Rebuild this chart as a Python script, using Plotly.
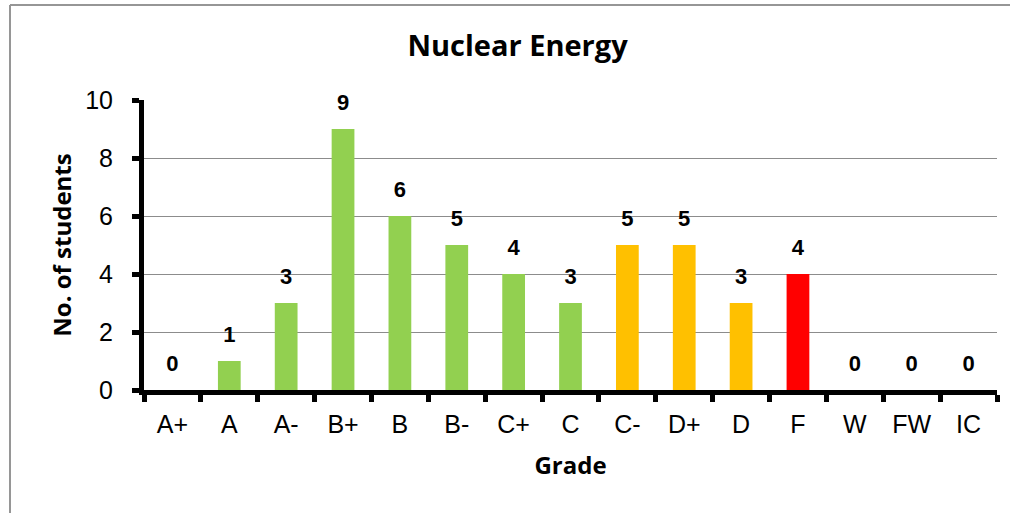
import plotly.graph_objects as go

grades = ["A+", "A", "A-", "B+", "B", "B-", "C+", "C", "C-", "D+", "D", "F", "W", "FW", "IC"]
students = [0, 1, 3, 9, 6, 5, 4, 3, 5, 5, 3, 4, 0, 0, 0]
colors = ["#92D050"] * 8 + ["#FFC000"] * 3 + ["#FF0000"] + ["#92D050"] * 3

fig = go.Figure()
fig.add_trace(go.Bar(
    x=grades, y=students, marker_color=colors, marker_line_width=0, hoverinfo="x+y",
))
fig.add_trace(go.Scatter(
    x=grades, y=students, mode="markers+text", text=[str(v) for v in students],
    textposition="top center", cliponaxis=False, hoverinfo="skip",
    marker=dict(size=20, color="rgba(0,0,0,0)"),
    textfont=dict(family="Arial", size=22, color="black", weight="bold"),
))

W, H = 1010, 513
l, r, t, b = 144, 13, 100, 123
pw, ph = W - l - r, H - t - b
fx = lambda px: (px - l) / pw
fy = lambda py: (H - b - py) / ph
fig.update_layout(
    width=W, height=H, autosize=False,
    margin=dict(l=l, r=r, t=t, b=b, pad=0),
    paper_bgcolor="white", plot_bgcolor="white",
    bargap=0.6, showlegend=False,
    title=dict(text="<b>Nuclear Energy</b>", x=0.5124, xanchor="center", y=0.910, yanchor="middle",
               font=dict(family="Open Sans", size=29, color="black")),
    xaxis=dict(
        range=[-0.5, len(grades) - 0.5],
        showline=True, linewidth=5, linecolor="black", ticks="outside", tickwidth=5, ticklen=7,
        tickcolor="black", tickson="boundaries", ticklabelstandoff=8,
        tickfont=dict(family="Arial", size=25, color="black"),
        title=dict(text="<b>Grade</b>", font=dict(family="Open Sans", size=24, color="black"), standoff=22),
        showgrid=False,
    ),
    yaxis=dict(
        range=[0, 10], dtick=2, showline=True, linewidth=5, linecolor="black", ticks="outside",
        tickwidth=5, ticklen=7, tickcolor="black", ticklabelstandoff=14,
        tickfont=dict(family="Arial", size=25, color="black"),
        showgrid=True, gridcolor="#8c8c8c", gridwidth=1, zeroline=False,
        title=dict(text="<b>No. of students</b>", font=dict(family="Open Sans", size=24, color="black"), standoff=8),
    ),
    shapes=[
        dict(type="line", xref="paper", yref="paper", x0=fx(10), x1=fx(W + 5), y0=fy(5), y1=fy(5),
             line=dict(color="#969696", width=2), layer="below"),
        dict(type="line", xref="paper", yref="paper", x0=fx(10), x1=fx(10), y0=fy(5), y1=fy(H + 5),
             line=dict(color="#969696", width=2), layer="below"),
    ],
)

fig.write_html("out.html", config={"displayModeBar": False},
               post_script="document.body.style.margin='0';document.body.style.overflow='hidden';")
